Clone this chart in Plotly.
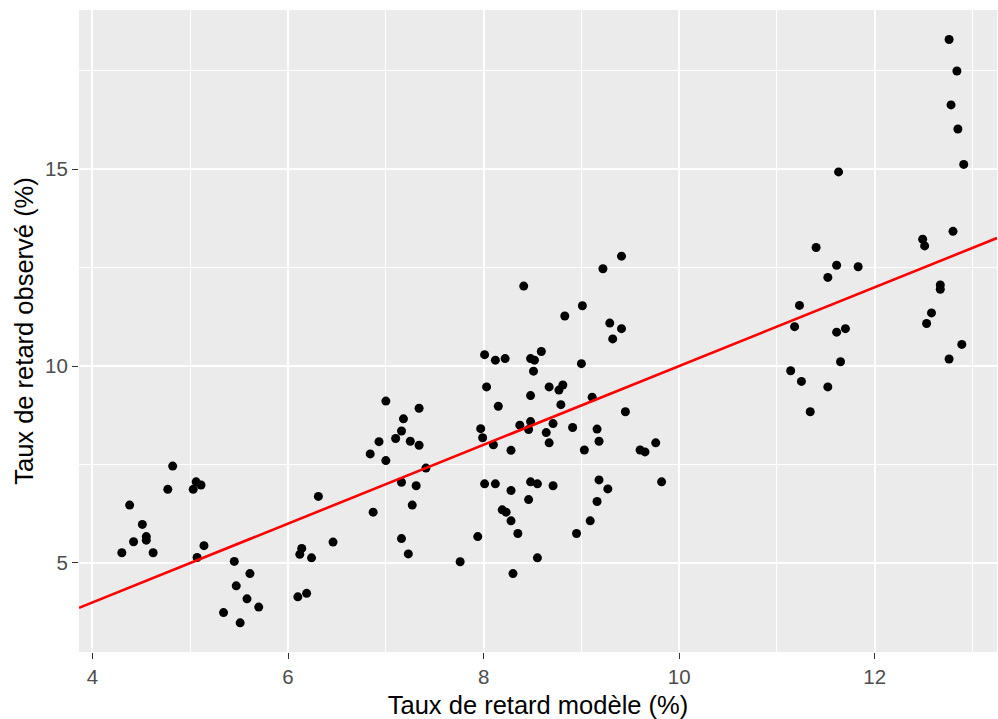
import plotly.graph_objects as go

# Modelled vs observed delay rate (%)
taux_modele = [
    4.82, 4.77, 5.06, 5.11, 5.03, 4.38, 4.51, 4.55, 4.55, 4.42, 4.30, 4.62, 5.14, 5.07,
    5.45, 5.61, 5.47, 5.58, 5.70, 5.34, 5.51,
    7.00, 7.34, 7.18, 7.16, 7.10, 6.93, 7.25, 7.34, 6.84, 7.00, 7.41, 7.16, 7.31, 6.31,
    7.27, 6.87, 6.46, 7.16, 6.14, 6.12, 6.24, 7.23, 7.76, 6.10, 6.19,
    8.41, 8.83, 8.59, 8.01, 8.12, 8.22, 8.48, 8.52, 8.51, 8.03, 8.48, 8.67, 8.77, 8.81,
    8.15, 8.79, 8.37, 8.48, 8.46, 8.71, 7.97, 7.99, 8.64, 8.67, 8.10, 8.28, 8.01, 8.12,
    8.48, 8.55, 8.71, 8.28, 8.46, 8.19, 8.23, 8.28, 8.35, 7.94, 8.55, 8.30,
    9.41, 9.22, 9.01, 9.29, 9.41, 9.32, 9.00, 9.11, 9.45, 8.91, 9.16, 9.18, 9.03, 9.60,
    9.65, 9.76, 9.18, 9.82, 9.27, 9.16, 9.09, 8.95,
    11.63, 11.40, 11.61, 11.83, 11.52, 11.23, 11.18, 11.61, 11.70, 11.65, 11.14, 11.25,
    11.52, 11.34,
    12.76, 12.84, 12.78, 12.85, 12.91, 12.80, 12.49, 12.51, 12.67, 12.67, 12.58, 12.53,
    12.89, 12.76,
]
taux_observe = [
    7.46, 6.87, 7.06, 6.98, 6.87, 6.47, 5.98, 5.67, 5.58, 5.54, 5.26, 5.26, 5.44, 5.14,
    5.04, 4.73, 4.42, 4.09, 3.88, 3.74, 3.48,
    9.11, 8.93, 8.66, 8.35, 8.16, 8.08, 8.09, 7.99, 7.77, 7.60, 7.41, 7.05, 6.96, 6.69,
    6.47, 6.29, 5.53, 5.62, 5.37, 5.22, 5.13, 5.23, 5.03, 4.14, 4.23,
    12.03, 11.27, 10.37, 10.29, 10.15, 10.19, 10.19, 10.15, 9.87, 9.47, 9.25, 9.47, 9.39,
    9.52, 8.98, 9.02, 8.50, 8.59, 8.39, 8.54, 8.41, 8.18, 8.31, 8.05, 8.00, 7.86, 7.01,
    7.01, 7.06, 7.01, 6.96, 6.84, 6.61, 6.35, 6.29, 6.07, 5.75, 5.67, 5.13, 4.73,
    12.79, 12.47, 11.53, 11.09, 10.95, 10.69, 10.06, 9.21, 8.84, 8.44, 8.40, 8.09, 7.87,
    7.87, 7.82, 8.05, 7.11, 7.06, 6.88, 6.56, 6.07, 5.75,
    14.93, 13.01, 12.56, 12.52, 12.25, 11.54, 11.00, 10.86, 10.95, 10.11, 9.88, 9.61,
    9.47, 8.84,
    18.29, 17.49, 16.63, 16.02, 15.12, 13.42, 13.22, 13.05, 12.06, 11.95, 11.35, 11.08,
    10.55, 10.18,
]

# Reference line y = intercept + slope * x
intercept = 0.0
slope = 1.0

x_ticks = [4, 6, 8, 10, 12]
y_ticks = [5, 10, 15]

x_range = [3.862, 13.25]
y_range = [2.74, 19.04]

fig = go.Figure()

fig.add_trace(go.Scatter(
    x=taux_modele, y=taux_observe, mode="markers",
    marker=dict(color="black", size=9, line=dict(width=0)),
    hoverinfo="x+y", showlegend=False,
))

line_x = x_range
line_y = [intercept + slope * v for v in line_x]
fig.add_trace(go.Scatter(
    x=line_x, y=line_y, mode="lines",
    line=dict(color="#FF0000", width=2.6),
    hoverinfo="skip", showlegend=False,
))

tick_font = dict(family="Liberation Sans, Arial, sans-serif", size=20.5, color="#4D4D4D")
title_font = dict(family="Liberation Sans, Arial, sans-serif", size=25.5, color="black")

fig.update_layout(
    width=998, height=719,
    margin=dict(l=79, r=1, t=10, b=67, autoexpand=False),
    paper_bgcolor="white",
    plot_bgcolor="#EBEBEB",
    xaxis=dict(
        range=x_range, tickmode="array", tickvals=x_ticks,
        ticktext=[str(v) for v in x_ticks],
        showgrid=True, gridcolor="white", gridwidth=1.5,
        minor=dict(dtick=1, tick0=3, showgrid=True, gridcolor="white", gridwidth=0.8,
                   ticks=""),
        zeroline=False, showline=False, automargin=False,
        ticks="outside", ticklen=6, tickwidth=1.2, tickcolor="#333333",
        ticklabelstandoff=0,
        tickfont=tick_font,
        title=dict(text="Taux de retard modèle (%)", font=title_font, standoff=13),
    ),
    yaxis=dict(
        range=y_range, tickmode="array", tickvals=y_ticks,
        ticktext=[str(v) for v in y_ticks],
        showgrid=True, gridcolor="white", gridwidth=1.5,
        minor=dict(dtick=2.5, tick0=2.5, showgrid=True, gridcolor="white", gridwidth=0.8,
                   ticks=""),
        zeroline=False, showline=False, automargin=False,
        ticks="outside", ticklen=6, tickwidth=1.2, tickcolor="#333333",
        tickfont=tick_font,
        title=dict(text="Taux de retard observé (%)", font=title_font, standoff=4),
    ),
)

# remove the default page margin so the figure sits at the window's top-left corner
page_js = "document.body.style.margin='0';document.body.style.overflow='hidden';"

fig.write_html("out.html", post_script=page_js, config={"displayModeBar": False})
